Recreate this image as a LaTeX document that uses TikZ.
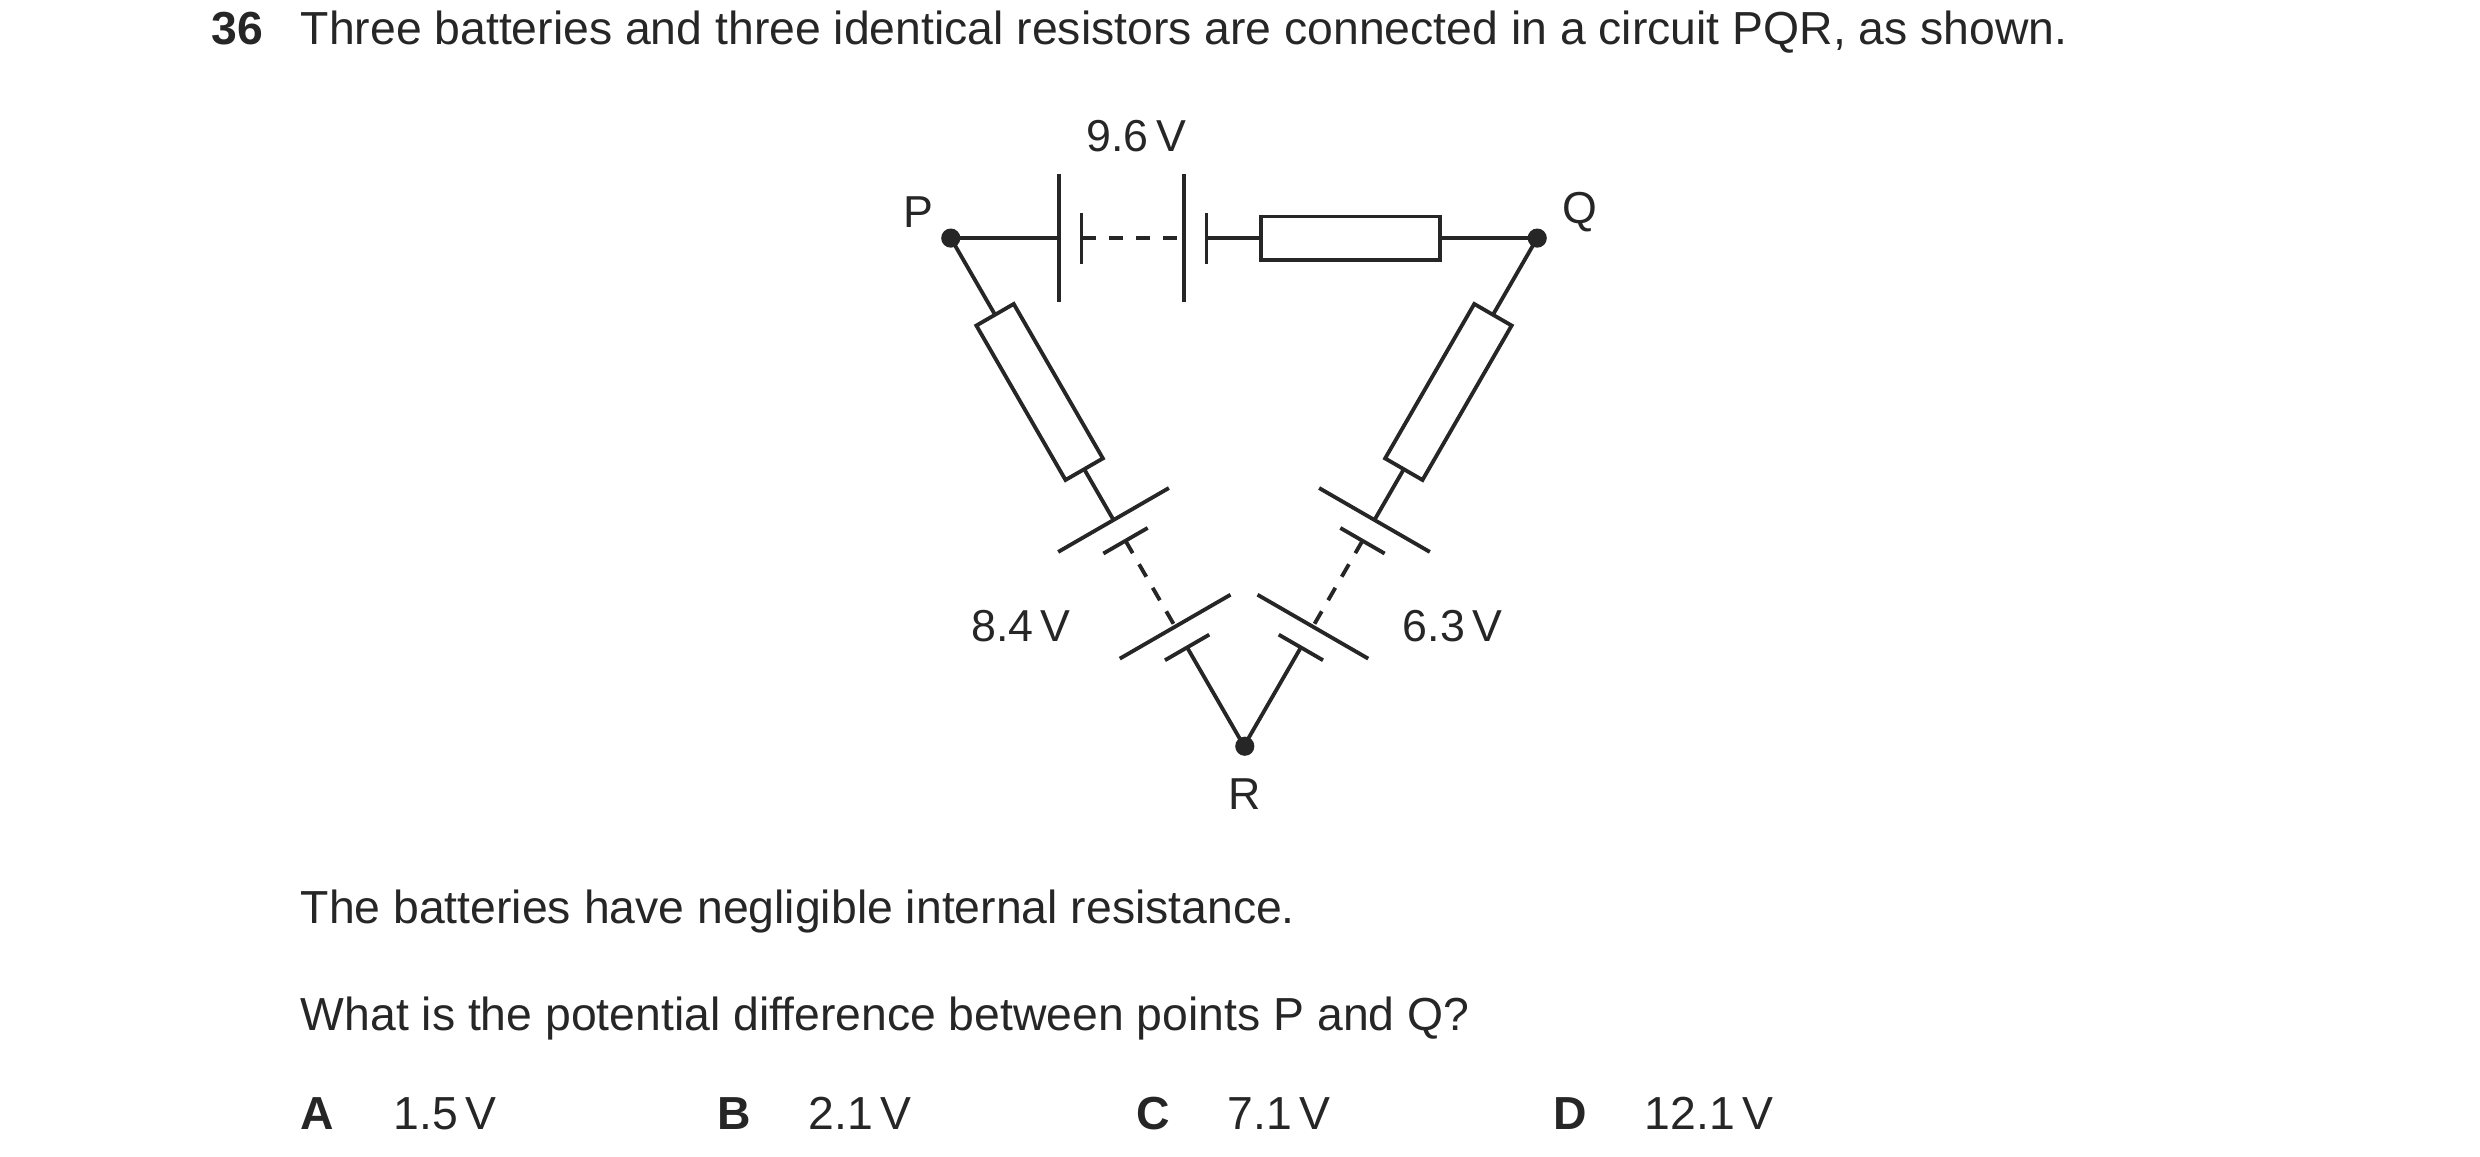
\documentclass[tikz,border=0pt]{standalone}
\usepackage{fontspec}
\setmainfont{Liberation Sans}
\begin{document}
\begin{tikzpicture}[x=1pt,y=1pt,line width=2.4pt,
  txt/.style={font=\fontsize{29}{32}\selectfont,inner sep=0pt,anchor=base west},
  lab/.style={font=\fontsize{28}{30}\selectfont,inner sep=0pt},
  dot/.style={circle,fill=black!85,inner sep=0pt,minimum size=12pt},
  dsh/.style={dash pattern=on 9pt off 8pt}]
\useasboundingbox (0,0) rectangle (1552,724);
\def\L{367}
% nodes
\node[dot] (P) at (595,575) {};
\node[dot] (Q) at (962,575) {};
\node[dot] (R) at (779,257) {};
\color{black!85}
% top edge P->Q
\begin{scope}[shift={(P.center)}]
 \draw (0,0) -- (67.9,0);
 \draw (67.9,-40) -- (67.9,40);
 \draw (81.8,-16) -- (81.8,16);
 \draw[dsh] (81.8,0) -- (146,0);
 \draw (146,-40) -- (146,40);
 \draw (160,-16) -- (160,16);
 \draw (160,0) -- (194,0);
 \draw (194,-13.5) rectangle (306,13.5);
 \draw (306,0) -- (\L,0);
\end{scope}
% side edges
\foreach \s/\a in {P/-60,Q/-120}{
\begin{scope}[shift={(\s.center)},rotate=\a]
 \draw (0,0) -- (55.4,0);
 \draw (55.4,-13.5) rectangle (167,13.5);
 \draw (167,0) -- (203.7,0);
 \draw (203.7,-40) -- (203.7,40);
 \draw (218.7,-16) -- (218.7,16);
 \draw[dsh] (218.7,0) -- (280.8,0);
 \draw (280.8,-40) -- (280.8,40);
 \draw (295.8,-16) -- (295.8,16);
 \draw (295.8,0) -- (\L,0);
\end{scope}}
% labels
\node[lab] at (711,639) {9.6\,V};
\node[lab] at (575,591) {P};
\node[lab] at (989,591) {Q};
\node[lab] at (639,332) {8.4\,V};
\node[lab] at (909,332) {6.3\,V};
\node[lab] at (779,227) {R};
% text
\node[txt,font=\fontsize{29}{32}\selectfont\bfseries] at (131,696) {36};
\node[txt] at (187,696) {Three batteries and three identical resistors are connected in a circuit PQR, as shown.};
\node[txt] at (187,146) {The batteries have negligible internal resistance.};
\node[txt] at (187,79) {What is the potential difference between points P and Q?};
\node[txt,font=\fontsize{29}{32}\selectfont\bfseries] at (187,17) {A};
\node[txt] at (245,17) {1.5\,V};
\node[txt,font=\fontsize{29}{32}\selectfont\bfseries] at (448,17) {B};
\node[txt] at (505,17) {2.1\,V};
\node[txt,font=\fontsize{29}{32}\selectfont\bfseries] at (710,17) {C};
\node[txt] at (767,17) {7.1\,V};
\node[txt,font=\fontsize{29}{32}\selectfont\bfseries] at (971,17) {D};
\node[txt] at (1028,17) {12.1\,V};
\end{tikzpicture}
\end{document}
